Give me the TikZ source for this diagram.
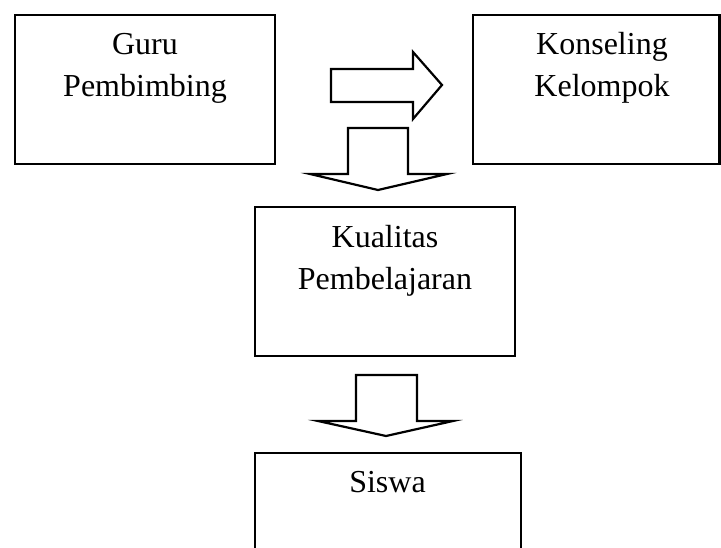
\documentclass[tikz,border=0pt]{standalone}
\usepackage{fontspec}
\setmainfont{Liberation Serif}
\usetikzlibrary{positioning}

\begin{document}
\begin{tikzpicture}[x=1pt,y=-1pt,
    box/.style={draw,line width=2.2pt,rectangle,inner sep=0pt},
    txt/.style={align=center,inner sep=0pt,font=\fontsize{32}{42}\selectfont},
    blockarrow/.style={draw,line width=2.2pt,fill=white,line join=miter}]

    \useasboundingbox (0,0) rectangle (721,548);
    \clip (0,0) rectangle (721,548);

    % Place the boxes
    \node[box,minimum width=260pt,minimum height=149pt] (guru) at (145,89.5) {};
    \node[box,minimum width=246.5pt,minimum height=149pt] (konseling) at (596.25,89.5) {};
    \node[box,minimum width=260pt,minimum height=149pt] (kualitas) at (385,281.5) {};
    \node[box,minimum width=266pt,minimum height=149pt] (siswa) at (388,527.5) {};

    % Place the texts (base = last line)
    \node[txt,anchor=base] (guruTxt) at (145,97) {Guru\\Pembimbing};
    \node[txt,anchor=base] (konselingTxt) at (602,97) {Konseling\\Kelompok};
    \node[txt,anchor=base] (kualitasTxt) at (385,290) {Kualitas\\Pembelajaran};
    \node[txt,anchor=base] (siswaTxt) at (387.5,492) {Siswa};

    % Draw the block arrows
    \draw[blockarrow] (331,69) -- (413,69) -- (413,52) -- (442,85) -- (413,119) -- (413,102) -- (331,102) -- cycle;
    \draw[blockarrow] (348,128) -- (408,128) -- (408,174) -- (447,174) -- (378,190) -- (310,174) -- (348,174) -- cycle;
    \draw[blockarrow] (356,375) -- (417,375) -- (417,421) -- (453,421) -- (386,436) -- (318,421) -- (356,421) -- cycle;

\end{tikzpicture}
\end{document}
